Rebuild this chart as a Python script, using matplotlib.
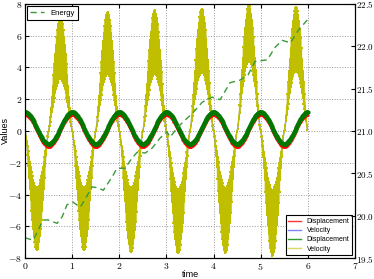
import matplotlib
matplotlib.use("Agg")
import matplotlib.pyplot as plt
import numpy as np
from matplotlib.lines import Line2D
from matplotlib.ticker import FuncFormatter, MultipleLocator

plt.rcParams["mathtext.fontset"] = "cm"
plt.rcParams["font.family"] = ["Liberation Sans", "DejaVu Sans"]

# values
t_end = 6.0
period = 1.0
disp_red_amp, disp_red_offset = 1.0, 0.0
disp_green_amp, disp_green_offset = 1.0, 0.19

# velocity: zero crossings and per-lobe outer / inner peaks
vel_crossings = [0.0, 0.5, 1.0, 1.5, 2.0, 2.5, 3.0, 3.5, 4.0, 4.5, 5.0, 5.5, 6.0]
vel_outer_peak = [-7.5, 7.2, -7.5, 7.5, -7.6, 7.6, -7.7, 7.7, -7.7, 7.9, -7.85, 7.8]
vel_inner_peak = [-3.6, 3.3, -3.6, 3.6, -3.6, 3.6, -3.7, 3.7, -3.6, 4.4, -3.7, 3.8]
vel_blue_peak = [-5.5, 5.5, -5.5, 5.5, -5.5, 5.5, -5.5, 5.5, -5.5, 5.5, -5.5, 5.5]

energy_t = [0.0, 0.17, 0.28, 0.38, 0.49, 0.68, 0.79, 0.89, 1.02, 1.17, 1.27, 1.42,
            1.55, 1.66, 1.85, 1.95, 2.12, 2.27, 2.38, 2.55, 2.70, 2.87, 3.01, 3.08,
            3.25, 3.40, 3.57, 3.76, 3.97, 4.14, 4.35, 4.56, 4.73, 4.88, 5.14, 5.31,
            5.46, 5.63, 5.80, 5.99]
energy_v = [19.74, 19.71, 19.83, 19.95, 19.95, 19.91, 19.99, 20.13, 20.16, 20.10, 20.19, 20.34,
            20.33, 20.30, 20.46, 20.56, 20.56, 20.68, 20.75, 20.74, 20.80, 20.92, 20.99, 20.93,
            21.05, 21.13, 21.22, 21.34, 21.40, 21.37, 21.57, 21.60, 21.66, 21.82, 21.84, 21.99,
            22.07, 22.04, 22.19, 22.31]

t = np.linspace(0, t_end, 601)
w = 2 * np.pi / period
disp_red = disp_red_amp * np.cos(w * t) + disp_red_offset
disp_green = disp_green_amp * np.cos(w * t) + disp_green_offset

# dense velocity traces built lobe by lobe
yt, yv, bv = [], [], []
for i in range(len(vel_outer_peak)):
    c0, c1 = vel_crossings[i], vel_crossings[i + 1]
    tt = np.linspace(c0, c1, 61)[:-1]
    s = np.sin(np.pi * (tt - c0) / (c1 - c0))
    outer = vel_outer_peak[i] * s ** 1.35
    inner = vel_inner_peak[i] * s ** 1.3
    yv.extend(np.where(np.arange(len(tt)) % 2 == 0, outer, inner))
    bv.extend(vel_blue_peak[i] * s ** 1.35)
    yt.extend(tt)
yt, yv, bv = np.array(yt), np.array(yv), np.array(bv)

fig = plt.figure(figsize=(3.74, 2.79), dpi=100)
ax = fig.add_axes([0.067, 0.075, 0.882, 0.911])

ax.plot(t, disp_red, color="red", lw=1.0, marker="o", ms=1.8, mew=0, alpha=0.8, zorder=3)
ax.plot(yt, bv, color="blue", lw=1.0, alpha=0.5, zorder=2)
ax.plot(yt, yv, color="#bfbf00", lw=0.8, marker="s", ms=2.0, mew=0, zorder=2.5)
ax.plot(t, disp_green, color="#007800", lw=1.8, marker="o", ms=3.0, mew=0, zorder=4)

ax.set_xlim(0, 7)
ax.set_ylim(-8, 8)
ax.xaxis.set_major_locator(MultipleLocator(1))
ax.yaxis.set_major_locator(MultipleLocator(2))
ax.xaxis.set_major_formatter(FuncFormatter(lambda v, p: f"${v:g}$"))
ax.yaxis.set_major_formatter(FuncFormatter(lambda v, p: f"${v:g}$"))
ax.tick_params(direction="in", labelsize=7, length=3, top=True, pad=2)
ax.grid(True, color="0.6", ls=":", lw=0.7)
ax.set_xlabel("time", fontsize=6.5, labelpad=-1)
ax.set_ylabel("Values", fontsize=6.5, labelpad=-1)

handles = [
    Line2D([], [], color="red", lw=1, alpha=0.8),
    Line2D([], [], color="blue", lw=1, alpha=0.5),
    Line2D([], [], color="green", lw=1, alpha=0.8),
    Line2D([], [], color="#bfbf00", lw=1, alpha=0.6),
]
leg = ax.legend(handles, ["Displacement", "Velocity", "Displacement", "Velocity"],
                loc="lower right", fontsize=5.0, fancybox=False, framealpha=1,
                edgecolor="black", borderaxespad=0.4, handlelength=1.8, labelspacing=0.3)
leg.get_frame().set_linewidth(0.8)
leg.set_zorder(10)

ax2 = ax.twinx()
ax2.plot(energy_t, energy_v, color="#3a9a3a", lw=1.0, dashes=(4.5, 3), label="Energy")
ax2.set_ylim(19.5, 22.5)
ax2.yaxis.set_major_locator(MultipleLocator(0.5))
ax2.yaxis.set_major_formatter(FuncFormatter(lambda v, p: f"${v:.1f}$"))
ax2.tick_params(direction="in", labelsize=6.5, length=3, pad=1)
leg2 = ax2.legend(loc="upper left", fontsize=5.5, fancybox=False, framealpha=1,
                  edgecolor="black", borderaxespad=0.3, handlelength=1.8)
leg2.get_frame().set_linewidth(0.8)

fig.savefig("out.png", dpi=100)
